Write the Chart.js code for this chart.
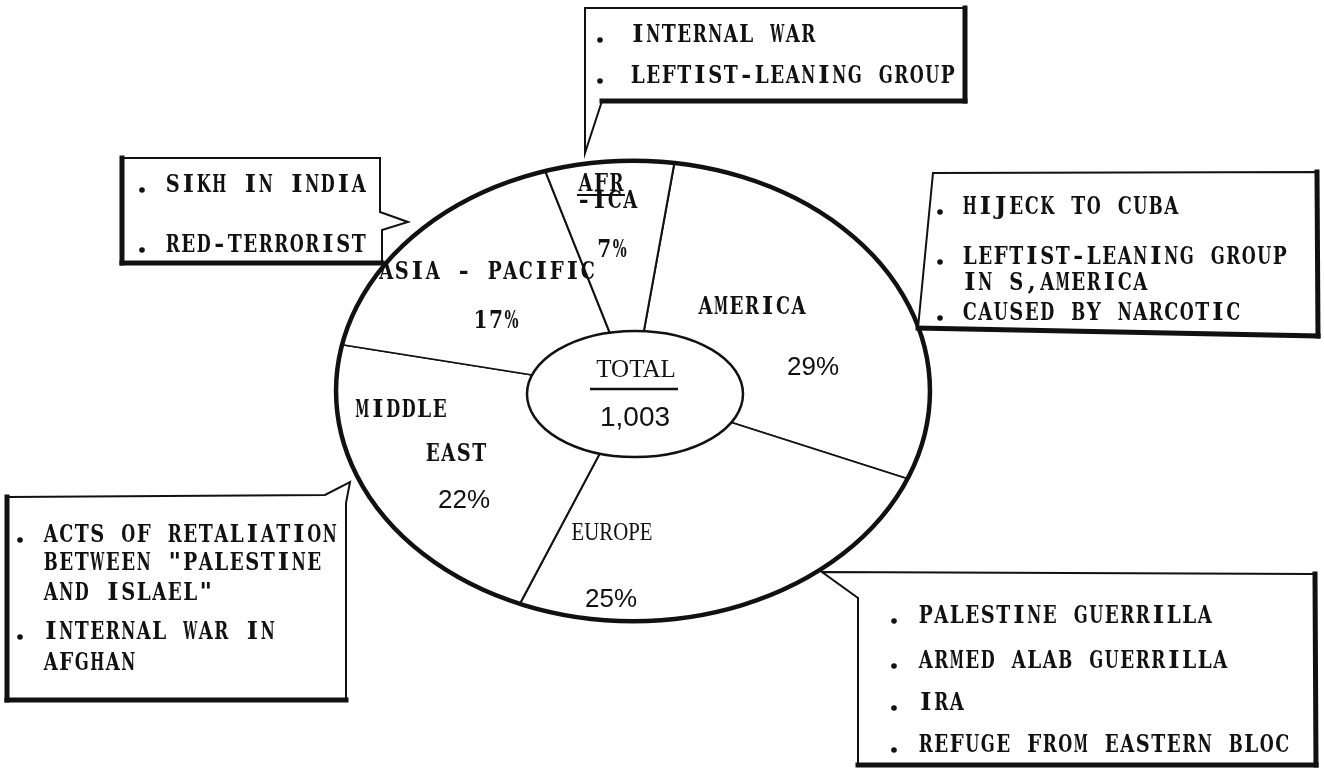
<!DOCTYPE html>
<html>
<head>
<meta charset="utf-8">
<title>Terrorism by region</title>
<script src="https://cdn.jsdelivr.net/npm/chart.js@4.4.1/dist/chart.umd.min.js"></script>
<style>
    html, body { margin: 0; padding: 0; background: #fff; }
    #wrap { position: relative; width: 1324px; height: 778px; }
</style>
</head>
<body>
<div id="wrap"><canvas id="pie"></canvas></div>
<script>
// --- data ---
const regions = ['AMERICA', 'EUROPE', 'MIDDLE EAST', 'ASIA - PACIFIC', 'AFRICA'];
const shares = [29, 25, 22, 17, 7];
const totalTitle = 'TOTAL';
const totalCount = '1,003';

// causes listed in the callouts (one inner array per bullet, wrapped lines after the first)
const africaCauses = [['INTERNAL WAR'], ['LEFTIST-LEANING GROUP']];
const asiaCauses = [['SIKH IN INDIA'], ['RED-TERRORIST']];
const americaCauses = [['HIJECK TO CUBA'], ['LEFTIST-LEANING GROUP', 'IN S,AMERICA'], ['CAUSED BY NARCOTIC']];
const middleEastCauses = [['ACTS OF RETALIATION', 'BETWEEN "PALESTINE', 'AND ISLAEL"'], ['INTERNAL WAR IN', 'AFGHAN']];
const europeCauses = [['PALESTINE GUERRILLA'], ['ARMED ALAB GUERRILLA'], ['IRA'], ['REFUGE FROM EASTERN BLOC']];

// --- look ---
const INK = '#111';
const STRETCH = 1.29;  // the pie is drawn as a wide ellipse
const TYPE = 'bold 24px "DejaVu Serif", "Liberation Serif", serif';
const PITCH = 15.5;    // typewriter: every letter gets the same cell
const GLYPH_MAX = 14;

const callouts = [
    { notes: africaCauses, shape: [[585, 153], [585, 8], [965, 8], [965, 101], [602, 101]], thick: [2, 3],
      bulletX: 600, textX: 630, rows: [35, 76] },
    { notes: asiaCauses, shape: [[122, 158], [380, 158], [380, 212], [408, 222], [382, 230], [382, 263], [122, 263]], thick: [5, 6],
      bulletX: 142, textX: 165, rows: [185, 245] },
    { notes: americaCauses, shape: [[918, 328], [933, 173], [1317, 172], [1318, 336]], thick: [2, 3],
      bulletX: 940, textX: 962, rows: [207, 257, 283, 313] },
    { notes: middleEastCauses, shape: [[7, 497], [325, 495], [350, 482], [346, 503], [346, 700], [7, 700]], thick: [4, 5],
      bulletX: 20, textX: 43, rows: [535, 563, 593, 632, 663] },
    { notes: europeCauses, shape: [[822, 572], [1315, 574], [1316, 765], [858, 765], [858, 598]], thick: [1, 2],
      bulletX: 894, textX: 918, rows: [616, 661, 703, 745] }
];

function typeText(ctx, text, x, y, align) {
    const x0 = align === 'center' ? x - text.length * PITCH / 2 : x;
    ctx.save();
    ctx.font = TYPE;
    ctx.textAlign = 'center';
    ctx.textBaseline = 'middle';
    [...text].forEach((ch, i) => {
        if (ch === ' ') return;
        const w = ctx.measureText(ch).width;
        const sx = w > GLYPH_MAX ? GLYPH_MAX / w : 1;
        ctx.save();
        ctx.translate(x0 + (i + 0.5) * PITCH, y + 1);
        ctx.scale(sx, 1);
        ctx.fillText(ch, 0, 0);
        ctx.restore();
    });
    ctx.restore();
}

function plainText(ctx, text, x, y, font, sx) {
    ctx.save();
    ctx.font = font;
    ctx.textAlign = 'center';
    ctx.textBaseline = 'middle';
    ctx.translate(x, y);
    ctx.scale(sx || 1, 1);
    ctx.fillText(text, 0, 0);
    ctx.restore();
}

function drawCallout(ctx, box) {
    const pts = box.shape;
    ctx.save();
    ctx.strokeStyle = INK;
    ctx.fillStyle = '#fff';
    ctx.lineJoin = 'miter';
    ctx.lineWidth = 2;
    ctx.beginPath();
    pts.forEach((p, i) => i ? ctx.lineTo(p[0], p[1]) : ctx.moveTo(p[0], p[1]));
    ctx.closePath();
    ctx.fill();
    ctx.stroke();

    // heavy "shadow" edges
    ctx.lineWidth = 5;
    ctx.lineCap = 'square';
    box.thick.forEach(i => {
        const a = pts[i], b = pts[(i + 1) % pts.length];
        ctx.beginPath();
        ctx.moveTo(a[0], a[1]);
        ctx.lineTo(b[0], b[1]);
        ctx.stroke();
    });

    ctx.fillStyle = INK;
    let row = 0;
    box.notes.forEach(lines => {
        lines.forEach((line, j) => {
            const y = box.rows[row++];
            if (j === 0) {
                ctx.beginPath();
                ctx.arc(box.bulletX, y + 5, 2.8, 0, Math.PI * 2);
                ctx.fill();
            }
            typeText(ctx, line, box.textX, y);
        });
    });
    ctx.restore();
}

const ellipsePie = {
    id: 'ellipsePie',
    beforeDatasetsDraw(chart) {
        const arc = chart.getDatasetMeta(0).data[0];
        const ctx = chart.ctx;
        ctx.save();
        ctx.translate(arc.x, arc.y);
        ctx.scale(STRETCH, 1);
        ctx.translate(-arc.x, -arc.y);
    },
    afterDatasetsDraw(chart) {
        const ctx = chart.ctx;
        ctx.restore();

        const arc = chart.getDatasetMeta(0).data[0];
        const cx = arc.x, cy = arc.y, r = arc.outerRadius;

        // heavy outline of the pie
        ctx.save();
        ctx.strokeStyle = INK;
        ctx.lineWidth = 4.5;
        ctx.beginPath();
        ctx.ellipse(cx, cy, r * STRETCH, r, 0, 0, Math.PI * 2);
        ctx.stroke();

        // centre oval with the total
        ctx.fillStyle = '#fff';
        ctx.lineWidth = 2.5;
        ctx.beginPath();
        ctx.ellipse(cx + 2, cy + 3, 108, 63, 0, 0, Math.PI * 2);
        ctx.fill();
        ctx.stroke();

        ctx.fillStyle = INK;
        plainText(ctx, totalTitle, cx + 3, cy - 21, '25px "Liberation Serif", serif');
        ctx.lineWidth = 2.5;
        ctx.beginPath();
        ctx.moveTo(cx - 43, cy - 2);
        ctx.lineTo(cx + 45, cy - 2);
        ctx.stroke();
        plainText(ctx, totalCount, cx + 2, cy + 27, '28px "Liberation Sans", sans-serif');

        // slice names and shares
        const pct = v => v + '%';
        const sans = '26px "Liberation Sans", sans-serif';
        typeText(ctx, regions[0], cx + 119, cy - 84, 'center');
        plainText(ctx, pct(shares[0]), cx + 180, cy - 23, sans);

        plainText(ctx, regions[1], cx - 21, cy + 142, '26px "Liberation Serif", serif', 0.8);
        plainText(ctx, pct(shares[1]), cx - 22, cy + 209, sans);

        const me = regions[2].split(' ');
        typeText(ctx, me[0], cx - 232, cy + 19, 'center');
        typeText(ctx, me[1], cx - 177, cy + 63, 'center');
        plainText(ctx, pct(shares[2]), cx - 169, cy + 110, sans);

        typeText(ctx, regions[3], cx - 146, cy - 119, 'center');
        typeText(ctx, pct(shares[3]), cx - 137, cy - 70, 'center');

        const af = regions[4];
        typeText(ctx, af.slice(0, 3), cx - 32, cy - 207, 'center');
        ctx.lineWidth = 2;
        ctx.beginPath();
        ctx.moveTo(cx - 56, cy - 196);
        ctx.lineTo(cx - 8, cy - 196);
        ctx.stroke();
        typeText(ctx, '-' + af.slice(3), cx - 26, cy - 190, 'center');
        typeText(ctx, pct(shares[4]), cx - 21, cy - 141, 'center');
        ctx.restore();
    },
    afterDraw(chart) {
        callouts.forEach(box => drawCallout(chart.ctx, box));
    }
};

const chart = new Chart(document.getElementById('pie'), {
    type: 'pie',
    data: {
        labels: regions,
        datasets: [{
            data: shares,
            backgroundColor: '#fff',
            borderColor: INK,
            borderWidth: 1.6,
            rotation: 8,
            clip: false
        }]
    },
    options: {
        responsive: true,
        maintainAspectRatio: false,
        animation: false,
        events: [],
        layout: { padding: { left: 402, right: 460, top: 160, bottom: 156 } },
        plugins: {
            legend: { display: false },
            tooltip: { enabled: false }
        }
    },
    plugins: [ellipsePie]
});
</script>
</body>
</html>
